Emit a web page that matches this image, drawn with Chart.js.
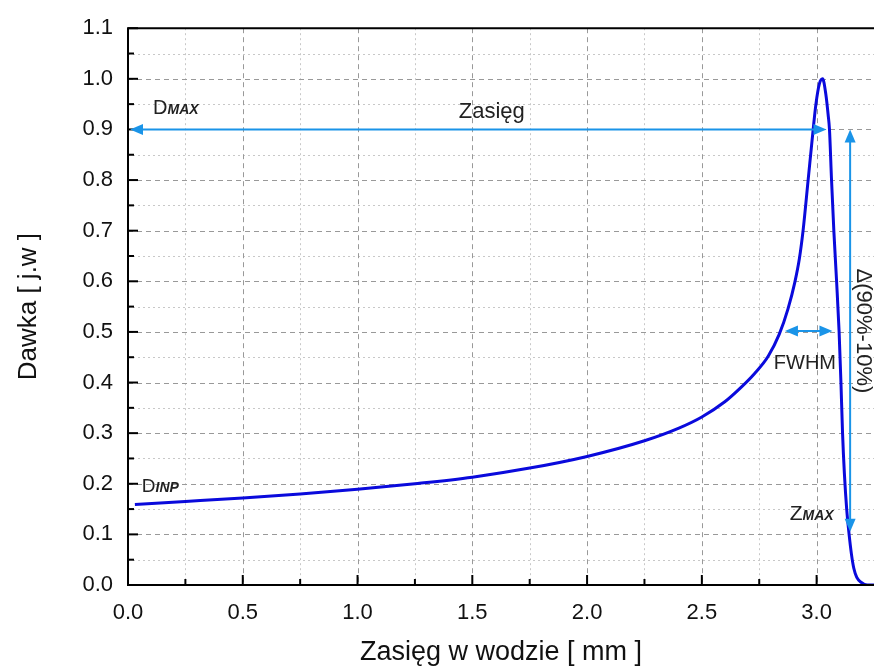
<!DOCTYPE html>
<html>
<head>
<meta charset="utf-8">
<script src="https://cdn.jsdelivr.net/npm/chart.js@4"></script>
<style>
  html, body { margin: 0; padding: 0; background: #fff; }
  #wrap { width: 874px; height: 670px; }
</style>
</head>
<body>
<div id="wrap"><canvas id="bragg"></canvas></div>
<script>
// krzywa Bragga
var depth = [0.03, 0.25, 0.5, 0.75, 1.0, 1.25, 1.5, 1.75, 2.0, 2.25, 2.4, 2.5, 2.6, 2.665, 2.73, 2.789, 2.837, 2.875, 2.905, 2.925, 2.941, 2.963, 2.985, 2.997, 3.012, 3.026,
             3.04, 3.05, 3.056, 3.065, 3.075, 3.087, 3.098, 3.106, 3.113, 3.121, 3.131, 3.142, 3.152, 3.162, 3.175, 3.195, 3.22, 3.25];
var dose  = [0.159, 0.165, 0.172, 0.18, 0.189, 0.2, 0.213, 0.231, 0.254, 0.285, 0.31, 0.332, 0.362, 0.388, 0.418, 0.452, 0.495, 0.545, 0.598, 0.645, 0.70, 0.80, 0.90, 0.95, 0.99, 1.0,
             0.97, 0.93, 0.90, 0.80, 0.70, 0.60, 0.50, 0.40, 0.30, 0.22, 0.15, 0.098, 0.06, 0.033, 0.015, 0.005, 0.0, 0.0];

var xTicks = [0.0, 0.5, 1.0, 1.5, 2.0, 2.5, 3.0];
var xMinor = [0.25, 0.75, 1.25, 1.75, 2.25, 2.75];
var yTicks = [0.0, 0.1, 0.2, 0.3, 0.4, 0.5, 0.6, 0.7, 0.8, 0.9, 1.0, 1.1];
var yMinor = [0.05, 0.15, 0.25, 0.35, 0.45, 0.55, 0.65, 0.75, 0.85, 0.95, 1.05];

// strzalki i opisy (w jednostkach wykresu)
var rangeArrow = { x0: 0.0, x1: 3.043, y: 0.9 };
var deltaArrow = { x: 3.146, y0: 0.9, y1: 0.105 };
var fwhmArrow  = { x0: 2.862, x1: 3.069, y: 0.502 };

var FONT = "'Liberation Sans', Arial, sans-serif";
var ARROW = '#1a94e8';
var TEXT = '#222';

function arrowHead(ctx, x, y, dir) {
    // dir: kierunek grotu w radianach
    ctx.save();
    ctx.translate(x, y);
    ctx.rotate(dir);
    ctx.beginPath();
    ctx.moveTo(0, 0);
    ctx.lineTo(-13, -5.5);
    ctx.lineTo(-13, 5.5);
    ctx.closePath();
    ctx.fill();
    ctx.restore();
}

function subLabel(ctx, x, y, main, sub, mainSize, subSize) {
    ctx.textAlign = 'left';
    ctx.textBaseline = 'alphabetic';
    ctx.font = mainSize + 'px ' + FONT;
    ctx.fillText(main, x, y);
    var w = ctx.measureText(main).width;
    ctx.font = 'italic bold ' + subSize + 'px ' + FONT;
    ctx.fillText(sub, x + w, y);
}

var decorations = {
    id: 'decorations',
    beforeDatasetsDraw: function(chart) {
        var ctx = chart.ctx, a = chart.chartArea;
        var xs = chart.scales.x, ys = chart.scales.y;
        ctx.save();
        ctx.lineWidth = 1;

        // siatka pomocnicza
        ctx.strokeStyle = '#c8c8c8';
        ctx.setLineDash([2, 3]);
        xMinor.forEach(function(v) {
            var px = Math.round(xs.getPixelForValue(v)) + 0.5;
            ctx.beginPath(); ctx.moveTo(px, a.top); ctx.lineTo(px, a.bottom); ctx.stroke();
        });
        yMinor.forEach(function(v) {
            var py = Math.round(ys.getPixelForValue(v)) + 0.5;
            ctx.beginPath(); ctx.moveTo(a.left, py); ctx.lineTo(a.right, py); ctx.stroke();
        });

        // siatka glowna
        ctx.strokeStyle = '#999';
        ctx.setLineDash([5, 4]);
        xTicks.slice(1).forEach(function(v) {
            var px = Math.round(xs.getPixelForValue(v)) + 0.5;
            ctx.beginPath(); ctx.moveTo(px, a.top); ctx.lineTo(px, a.bottom); ctx.stroke();
        });
        yTicks.slice(1, -1).forEach(function(v) {
            var py = Math.round(ys.getPixelForValue(v)) + 0.5;
            ctx.beginPath(); ctx.moveTo(a.left, py); ctx.lineTo(a.right, py); ctx.stroke();
        });
        ctx.restore();
    },
    afterDatasetsDraw: function(chart) {
        var ctx = chart.ctx, a = chart.chartArea;
        var xs = chart.scales.x, ys = chart.scales.y;
        ctx.save();

        // ramka i znaczniki skierowane do srodka
        ctx.strokeStyle = '#000';
        ctx.lineWidth = 2;
        ctx.beginPath();
        ctx.moveTo(a.right, a.top); ctx.lineTo(a.left, a.top);
        ctx.lineTo(a.left, a.bottom); ctx.lineTo(a.right, a.bottom);
        ctx.stroke();
        xTicks.forEach(function(v) {
            var px = xs.getPixelForValue(v);
            ctx.beginPath(); ctx.moveTo(px, a.bottom); ctx.lineTo(px, a.bottom - 10); ctx.stroke();
        });
        xMinor.forEach(function(v) {
            var px = xs.getPixelForValue(v);
            ctx.beginPath(); ctx.moveTo(px, a.bottom); ctx.lineTo(px, a.bottom - 6); ctx.stroke();
        });
        yTicks.forEach(function(v) {
            var py = ys.getPixelForValue(v);
            ctx.beginPath(); ctx.moveTo(a.left, py); ctx.lineTo(a.left + 10, py); ctx.stroke();
        });
        yMinor.forEach(function(v) {
            var py = ys.getPixelForValue(v);
            ctx.beginPath(); ctx.moveTo(a.left, py); ctx.lineTo(a.left + 6, py); ctx.stroke();
        });

        // strzalki
        ctx.strokeStyle = ARROW;
        ctx.fillStyle = ARROW;
        ctx.lineWidth = 2;

        var rx0 = xs.getPixelForValue(rangeArrow.x0) + 2, rx1 = xs.getPixelForValue(rangeArrow.x1);
        var ry = ys.getPixelForValue(rangeArrow.y);
        ctx.beginPath(); ctx.moveTo(rx0 + 8, ry); ctx.lineTo(rx1 - 8, ry); ctx.stroke();
        arrowHead(ctx, rx0, ry, Math.PI);
        arrowHead(ctx, rx1, ry, 0);

        var dx = xs.getPixelForValue(deltaArrow.x);
        var dy0 = ys.getPixelForValue(deltaArrow.y0), dy1 = ys.getPixelForValue(deltaArrow.y1);
        ctx.beginPath(); ctx.moveTo(dx, dy0 + 8); ctx.lineTo(dx, dy1 - 8); ctx.stroke();
        arrowHead(ctx, dx, dy0, -Math.PI / 2);
        arrowHead(ctx, dx, dy1, Math.PI / 2);

        var fx0 = xs.getPixelForValue(fwhmArrow.x0), fx1 = xs.getPixelForValue(fwhmArrow.x1);
        var fy = ys.getPixelForValue(fwhmArrow.y);
        ctx.beginPath(); ctx.moveTo(fx0 + 8, fy); ctx.lineTo(fx1 - 8, fy); ctx.stroke();
        arrowHead(ctx, fx0, fy, Math.PI);
        arrowHead(ctx, fx1, fy, 0);

        // opisy
        ctx.fillStyle = TEXT;
        ctx.font = '22px ' + FONT;
        ctx.textAlign = 'center';
        ctx.textBaseline = 'alphabetic';
        ctx.fillText('Zasięg', xs.getPixelForValue(1.585), ys.getPixelForValue(0.923));

        ctx.font = '20px ' + FONT;
        ctx.fillText('FWHM', xs.getPixelForValue(2.949), ys.getPixelForValue(0.427));

        subLabel(ctx, xs.getPixelForValue(0.109), ys.getPixelForValue(0.931), 'D', 'MAX', 20, 14);
        subLabel(ctx, xs.getPixelForValue(0.06), ys.getPixelForValue(0.184), 'D', 'INP', 19, 14);
        subLabel(ctx, xs.getPixelForValue(2.883), ys.getPixelForValue(0.128), 'Z', 'MAX', 21, 14);

        ctx.save();
        ctx.translate(xs.getPixelForValue(3.204), ys.getPixelForValue(0.502));
        ctx.rotate(Math.PI / 2);
        ctx.font = '22px ' + FONT;
        ctx.textAlign = 'center';
        ctx.textBaseline = 'middle';
        ctx.fillText('Δ(90%-10%)', 0, 0);
        ctx.restore();

        ctx.restore();
    }
};

document.addEventListener('DOMContentLoaded', function() {
    var points = depth.map(function(d, i) { return { x: d, y: dose[i] }; });

    var ctx = document.getElementById('bragg').getContext('2d');
    new Chart(ctx, {
        type: 'line',
        data: {
            datasets: [{
                label: 'Dawka',
                data: points,
                borderColor: '#0a0adc',
                borderWidth: 3,
                pointRadius: 0,
                fill: false,
                cubicInterpolationMode: 'monotone'
            }]
        },
        options: {
            responsive: true,
            maintainAspectRatio: false,
            animation: false,
            layout: { padding: { top: 26, left: 0, right: 0, bottom: 0 } },
            plugins: { legend: { display: false }, tooltip: { enabled: false } },
            scales: {
                x: {
                    type: 'linear',
                    min: 0,
                    max: 3.25,
                    afterBuildTicks: function(scale) {
                        scale.ticks = xTicks.map(function(v) { return { value: v }; });
                    },
                    afterFit: function(scale) { scale.height = 85; },
                    grid: { display: false, drawTicks: false },
                    border: { display: false },
                    ticks: {
                        padding: 15,
                        color: '#111',
                        font: { family: FONT, size: 22 },
                        maxRotation: 0,
                        callback: function(v) { return v.toFixed(1); }
                    },
                    title: {
                        display: true,
                        text: 'Zasięg w wodzie [ mm ]',
                        color: '#111',
                        font: { family: FONT, size: 27 },
                        padding: { top: 0, bottom: 1 }
                    }
                },
                y: {
                    type: 'linear',
                    min: 0,
                    max: 1.1,
                    afterBuildTicks: function(scale) {
                        scale.ticks = yTicks.map(function(v) { return { value: v }; });
                    },
                    afterFit: function(scale) { scale.width = 128; },
                    grid: { display: false, drawTicks: false },
                    border: { display: false },
                    ticks: {
                        padding: 15,
                        color: '#111',
                        font: { family: FONT, size: 22 },
                        callback: function(v) { return v.toFixed(1); }
                    },
                    title: {
                        display: true,
                        text: 'Dawka [ j.w ]',
                        color: '#111',
                        font: { family: FONT, size: 26 },
                        padding: { top: 13, bottom: 0 }
                    }
                }
            }
        },
        plugins: [decorations]
    });
});
</script>
</body>
</html>
